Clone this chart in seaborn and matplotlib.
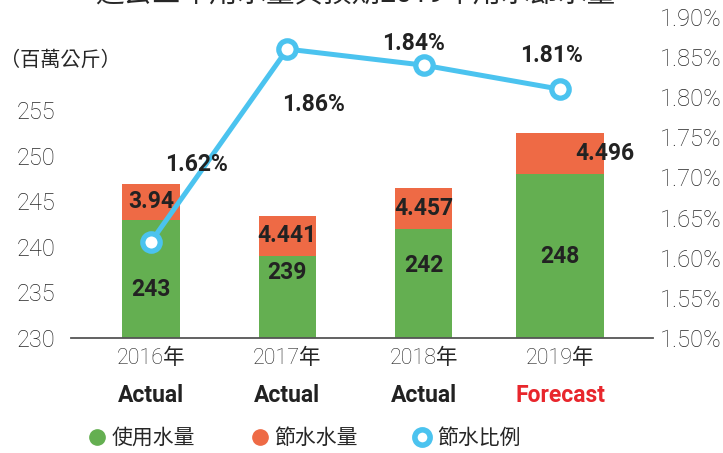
import numpy as np
import pandas as pd
import matplotlib
matplotlib.use("Agg")
import matplotlib.pyplot as plt
from matplotlib.lines import Line2D
import seaborn as sns

# ---- data ----
years = ["2016年", "2017年", "2018年", "2019年"]
status = ["Actual", "Actual", "Actual", "Forecast"]
water_used = [243, 239, 242, 248]              # 使用水量 (百萬公斤)
water_saved = [3.94, 4.441, 4.457, 4.496]      # 節水水量 (百萬公斤)
saving_ratio = [1.62, 1.86, 1.84, 1.81]        # 節水比例 (%)
left_ticks = [230, 235, 240, 245, 250, 255]
right_ticks = [1.50, 1.55, 1.60, 1.65, 1.70, 1.75, 1.80, 1.85, 1.90]
legend_labels = ["使用水量", "節水水量", "節水比例"]
unit_label = "（百萬公斤）"
title_text = "過去三年用水量與預期2019年用水節水量"

# ---- style ----
GREEN = "#64AF51"
RED = "#EE6A45"
BLUE = "#4BC3EF"
DARK = "#222222"
TICK = "#262626"
FORECAST_RED = "#E8262C"

sns.set_theme(style="white")
plt.rcParams["font.family"] = ["Roboto", "Noto Sans CJK TC", "DejaVu Sans"]

df = pd.DataFrame({
    "year": years,
    "used": water_used,
    "saved": water_saved,
    "ratio": saving_ratio,
})
df["total"] = df["used"] + df["saved"]

W, H = 723, 453
fig = plt.figure(figsize=(W / 100, H / 100), dpi=100)
ax = fig.add_axes([71 / W, 1 - 338 / H, 582 / W, 321 / H])

# stacked bars: total (saved on top) first, then used over it
sns.barplot(data=df, x="year", y="total", color=RED, saturation=1,
            width=0.42, errorbar=None, linewidth=0, ax=ax)
sns.barplot(data=df, x="year", y="used", color=GREEN, saturation=1,
            width=0.42, errorbar=None, linewidth=0, ax=ax)

# forecast column is drawn wider
for p in ax.patches:
    c = p.get_x() + p.get_width() / 2
    if abs(c - 3) < 0.01:
        p.set_width(0.65)
        p.set_x(c - 0.65 / 2)

ax.set_xlim(-0.587, 3.682)
ax.set_ylim(230, 230 + 321 / 9.107)

ax2 = ax.twinx()
sns.lineplot(data=df, x="year", y="ratio", sort=False, ax=ax2, color=BLUE,
             linewidth=3.6, marker="o", markersize=12.5,
             markerfacecolor="white", markeredgecolor=BLUE,
             markeredgewidth=3.8)
ax2.set_ylim(1.50, 1.90)
ax.set_xlim(-0.587, 3.682)

# axes cosmetics
for s in ["left", "right", "top"]:
    ax.spines[s].set_visible(False)
for s in ax2.spines.values():
    s.set_visible(False)
ax.spines["bottom"].set_color("#555555")
ax.spines["bottom"].set_linewidth(1.3)

ax.set_yticks(left_ticks)
ax.set_yticklabels([str(t) for t in left_ticks], fontsize=17,
                   fontweight="light", color=TICK)
ax.tick_params(axis="y", length=0, pad=11)
ax2.set_yticks(right_ticks)
ax2.set_yticklabels([f"{t:.2f}%" for t in right_ticks], fontsize=17,
                    fontweight="light", color=TICK)
ax2.tick_params(axis="y", length=0, pad=5)

ax.set_xticks(range(len(years)))
ax.set_xticklabels(years, fontsize=15.5, fontweight="light", color=TICK)
ax.tick_params(axis="x", length=0, pad=7)
ax.set_xlabel("")
ax.set_ylabel("")
ax2.set_ylabel("")

# status line under each year
for i, s in enumerate(status):
    ax.annotate(s, xy=(i, 0), xycoords=("data", "axes fraction"),
                xytext=(0, -58), textcoords="offset pixels",
                ha="center", va="center", fontsize=16.5, fontweight="bold",
                color=FORECAST_RED if s == "Forecast" else DARK,
                annotation_clip=False)

# value labels (drawn on the top axes so they sit above the line)
label_kw = dict(ha="center", va="center", fontsize=16.5, fontweight="bold",
                color=DARK, textcoords="offset pixels", annotation_clip=False)
green_dy = [-70, -16, -37, -82]
red_dx = [0, 0, 0, 45]
for i in range(len(years)):
    ax2.annotate(str(water_used[i]), xy=(i, water_used[i]),
                 xycoords=ax.transData, xytext=(0, green_dy[i]), **label_kw)
    ax2.annotate(f"{water_saved[i]:g}",
                 xy=(i, water_used[i] + water_saved[i] / 2),
                 xycoords=ax.transData, xytext=(red_dx[i], 0), **label_kw)

pct_offsets = [(45, 77), (26, -55), (-10, 22), (-9, 34)]
for i, r in enumerate(saving_ratio):
    ax2.annotate(f"{r:.2f}%", xy=(i, r), xycoords=ax2.transData,
                 xytext=pct_offsets[i], **label_kw)

# unit and title
fig.text(0.0, 1 - 60 / H, unit_label, ha="left", va="center", fontsize=14.5,
         fontweight="light", color=TICK)
fig.text(355 / W, 1 - 1 / H, title_text, ha="center", va="baseline",
         fontsize=20.5, color=TICK)

# legend
handles = [
    Line2D([], [], ls="", marker="o", color=GREEN, markersize=11),
    Line2D([], [], ls="", marker="o", color=RED, markersize=11),
    Line2D([], [], ls="", marker="o", markerfacecolor="white",
           markeredgecolor=BLUE, markeredgewidth=4, markersize=11),
]
leg = fig.legend(handles, legend_labels, loc="center left",
                 bbox_to_anchor=(70 / W, 1 - 438 / H), ncol=3, frameon=False,
                 handlelength=0.8, handletextpad=0.3, columnspacing=2.7,
                 prop={"size": 15, "weight": "light"})
for t in leg.get_texts():
    t.set_color(TICK)

fig.savefig("out.png", dpi=100)
